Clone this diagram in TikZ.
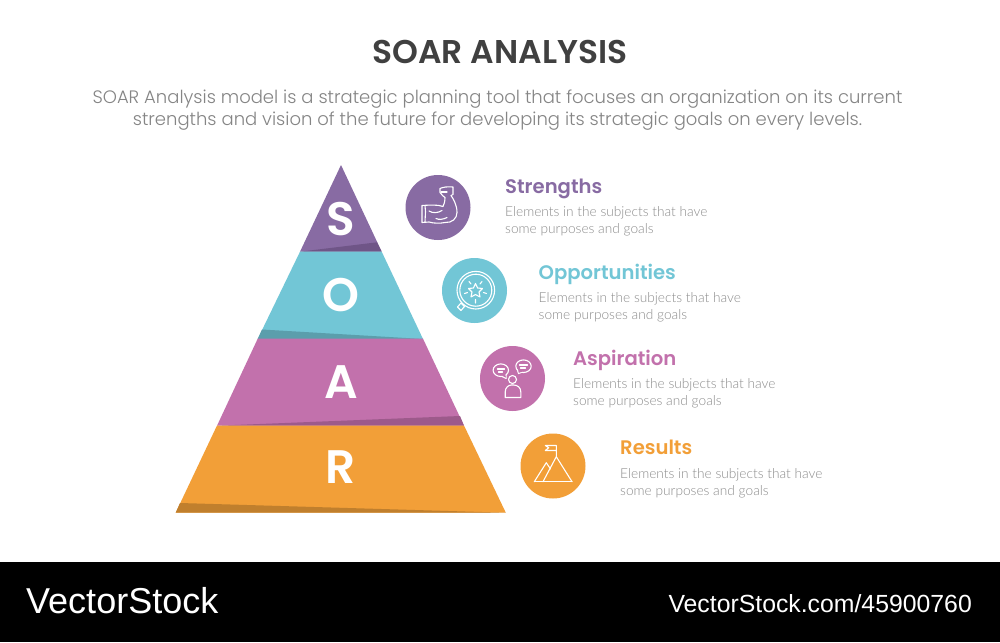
\documentclass[tikz,border=0pt]{standalone}
\usepackage{fontspec}
\setmainfont{Lato}
\newfontfamily\pop{Poppins}
\newfontfamily\popb{Poppins}[UprightFont=*-SemiBold]
\newfontfamily\popl{Poppins}[UprightFont=*-Light]
\newfontfamily\latol{Lato}[UprightFont=*-Light]
\newfontfamily\vs{Liberation Sans}
\definecolor{cS}{HTML}{886BA3}\definecolor{cSd}{HTML}{6F5587}
\definecolor{cO}{HTML}{72C6D6}\definecolor{cOd}{HTML}{5B9EAC}
\definecolor{cA}{HTML}{C271AC}\definecolor{cAd}{HTML}{9D5A8B}
\definecolor{cR}{HTML}{F29F38}\definecolor{cRd}{HTML}{C07F2D}
\definecolor{tit}{HTML}{404040}\definecolor{sub}{HTML}{858585}\definecolor{desc}{HTML}{8C8C8C}
\tikzset{
 letter/.style={text=white,font=\popb\fontsize{47}{47}\selectfont,anchor=center,inner sep=0},
 disc/.style={circle,minimum size=65pt,inner sep=0},
 head/.style={anchor=base west,inner sep=0,font=\popb\fontsize{19.6}{19.6}\selectfont},
 body/.style={anchor=base west,inner sep=0,text=desc,font=\latol\fontsize{13.7}{17}\selectfont,align=left},
 ico/.style={draw=white,line width=1.1pt,line join=round,line cap=round,fill=none},
}
\begin{document}
\begin{tikzpicture}[x=1pt,y=-1pt]
\useasboundingbox (0,0) rectangle (1000,642);
\fill[white] (0,0) rectangle (1000,642);
\fill[black] (0,562) rectangle (1000,642);
\node[anchor=base,inner sep=0,text=tit,font=\popb\fontsize{32.9}{32.9}\selectfont] (title) at (500,63.5) {SOAR ANALYSIS};
\node[anchor=base,inner sep=0,text=sub,font=\popl\fontsize{18}{18}\selectfont] (sub1) at (497.5,103) {SOAR Analysis model is a strategic planning tool that focuses an organization on its current};
\node[anchor=base,inner sep=0,text=sub,font=\popl\fontsize{18}{18}\selectfont] (sub2) at (497.5,125) {strengths and vision of the future for developing its strategic goals on every levels.};
% pyramid
\fill[cS] (341,165)--(381.7,251.7)--(300,251.7)--cycle;
\fill[cSd] (376.9,242.3)--(381.7,251.7)--(300,251.7)--cycle;
\fill[cO] (300,251.7)--(381.7,251.7)--(423,339)--(257.7,339)--cycle;
\fill[cOd] (262,329.5)--(423,339)--(257.7,339)--cycle;
\fill[cA] (257.7,338.7)--(423,338.7)--(464,425.7)--(217,425.7)--cycle;
\fill[cAd] (460,416)--(464,425.7)--(217,425.7)--cycle;
\fill[cR] (217,425.5)--(464,425.5)--(505.8,512.7)--(175.7,512.7)--cycle;
\fill[cRd] (180,503)--(505.8,512.7)--(175.7,512.7)--cycle;
\node[letter] (ls) at (341,219) {S};
\node[letter] (lo) at (341,295.5) {O};
\node[letter] (la) at (341,382) {A};
\node[letter] (lr) at (341,467) {R};
% discs
\node[disc,fill=cS] (d1) at (438,207.5) {};
\node[disc,fill=cO] (d2) at (474.5,290.5) {};
\node[disc,fill=cA] (d3) at (512.5,378.5) {};
\node[disc,fill=cR] (d4) at (553,466) {};
% muscle icon
\begin{scope}[shift={(d1.center)}]
\draw[ico] (-16,-2) -- (-16,15) -- (-9,14.5) .. controls (-4,16) and (2,16) .. (7,15) .. controls (14,15.5) and (19,11) .. (19,5) .. controls (19,-3) and (15,-9) .. (13,-12) -- (15,-13) -- (15,-20.5) .. controls (10,-21) and (5,-20.5) .. (2,-19) -- (2,-15) -- (5,-11.5) -- (7,-10) .. controls (7,-6) and (6,-3) .. (5,-1) .. controls (0,-3) and (-8,-2.5) .. (-16,-2);
\draw[ico] (-13,-2) -- (-12.5,4) -- (-13,14.5);
\draw[ico] (-9,3.5) .. controls (-5,6) and (0,5.5) .. (4,3);
\draw[ico] (-2,11) .. controls (1,12.5) and (5,12) .. (9,10);
\draw[ico] (3,-15.5) -- (9,-15.5);
\end{scope}
% magnifier star icon
\begin{scope}[shift={(d2.center)}]
\draw[ico] (1.3,-0.3) circle (18.8);
\draw[ico] (1.3,-0.3) circle (16);
\draw[ico] (-13.5,12.5) -- (-10,16) -- (-13.5,20) -- (-17,16.5) -- cycle;
\draw[ico] (1,-7) -- (3.1,-2.5) -- (8,-2) -- (4.5,1.5) -- (5.5,6.5) -- (1,4) -- (-3.5,6.5) -- (-2.5,1.5) -- (-6,-2) -- (-1.1,-2.5) -- cycle;
\draw[ico] (-5.5,-9) -- (-3.5,-6.5) (7.5,-9) -- (5.5,-6.5) (-10,3) -- (-7,2) (12,3) -- (9,2) (1,9) -- (1,12.5);
\end{scope}
% people icon
\begin{scope}[shift={(d3.center)}]
\draw[ico] (-6.5,-5) -- (-6.3,0) -- (-11,-2.2);
\draw[ico,fill=cA] (-11.7,-8.3) ellipse (7.7 and 6.3);
\fill[cA] (-10.5,-3.2) -- (-6.8,-0.8) -- (-7.2,-4.5) -- cycle;
\draw[ico] (-15,-9.5) -- (-8,-9.5) (-14,-6.5) -- (-10,-6.5);
\draw[ico] (4.5,-9.5) -- (6,-5) -- (10,-6.5);
\draw[ico,fill=cA] (11,-12.3) ellipse (7.7 and 6.3);
\fill[cA] (5.5,-9.5) -- (6.3,-5.8) -- (10,-7) -- cycle;
\draw[ico] (7,-13.5) -- (15,-13.5) (8,-10.5) -- (13,-10.5);
\draw[ico] (0,1) circle (4);
\draw[ico] (-7.3,19) -- (-7.3,13.5) .. controls (-7.3,9) and (-4,6.5) .. (-1,6.5) -- (1,6.5) .. controls (5,6.5) and (8.3,9) .. (8.3,13.5) -- (8.3,19) -- cycle;
\end{scope}
% mountain icon
\begin{scope}[shift={(d4.center)}]
\draw[ico] (-18.7,15.7) -- (19,15.7);
\draw[ico] (-10,15.7) -- (3.3,-9.3) -- (19,15.7);
\draw[ico] (-18.7,15.7) -- (-6.7,-3.3) -- (-2.5,3);
\draw[ico] (3.3,-9.3) -- (3.3,-20.5) -- (-7.7,-20.5) -- (-4.3,-18.3) -- (-7.7,-15.5) -- (3.3,-15.5);
\end{scope}
% texts
\node[head,text=cS] (h1) at (505,193.7) {Strengths};
\node[body] (b1) at (505,216) {Elements in the subjects that have};
\node[body] (b1b) at (505,233) {some purposes and goals};
\node[head,text=cO] (h2) at (538.5,279.7) {Opportunities};
\node[body] (b2) at (538.5,302) {Elements in the subjects that have};
\node[body] (b2b) at (538.5,319) {some purposes and goals};
\node[head,text=cA] (h3) at (573,365.7) {Aspiration};
\node[body] (b3) at (573,388) {Elements in the subjects that have};
\node[body] (b3b) at (573,405) {some purposes and goals};
\node[head,text=cR] (h4) at (620,454.7) {Results};
\node[body] (b4) at (620,478) {Elements in the subjects that have};
\node[body] (b4b) at (620,495) {some purposes and goals};
% band
\node[anchor=base west,inner sep=0,text=white,font=\vs\fontsize{36}{36}\selectfont] (vs1) at (26,613) {VectorStock};
\node[anchor=base east,inner sep=0,text=white,font=\vs\fontsize{24.8}{24.8}\selectfont] (vs2) at (972,612) {VectorStock.com/45900760};
\end{tikzpicture}
\end{document}
